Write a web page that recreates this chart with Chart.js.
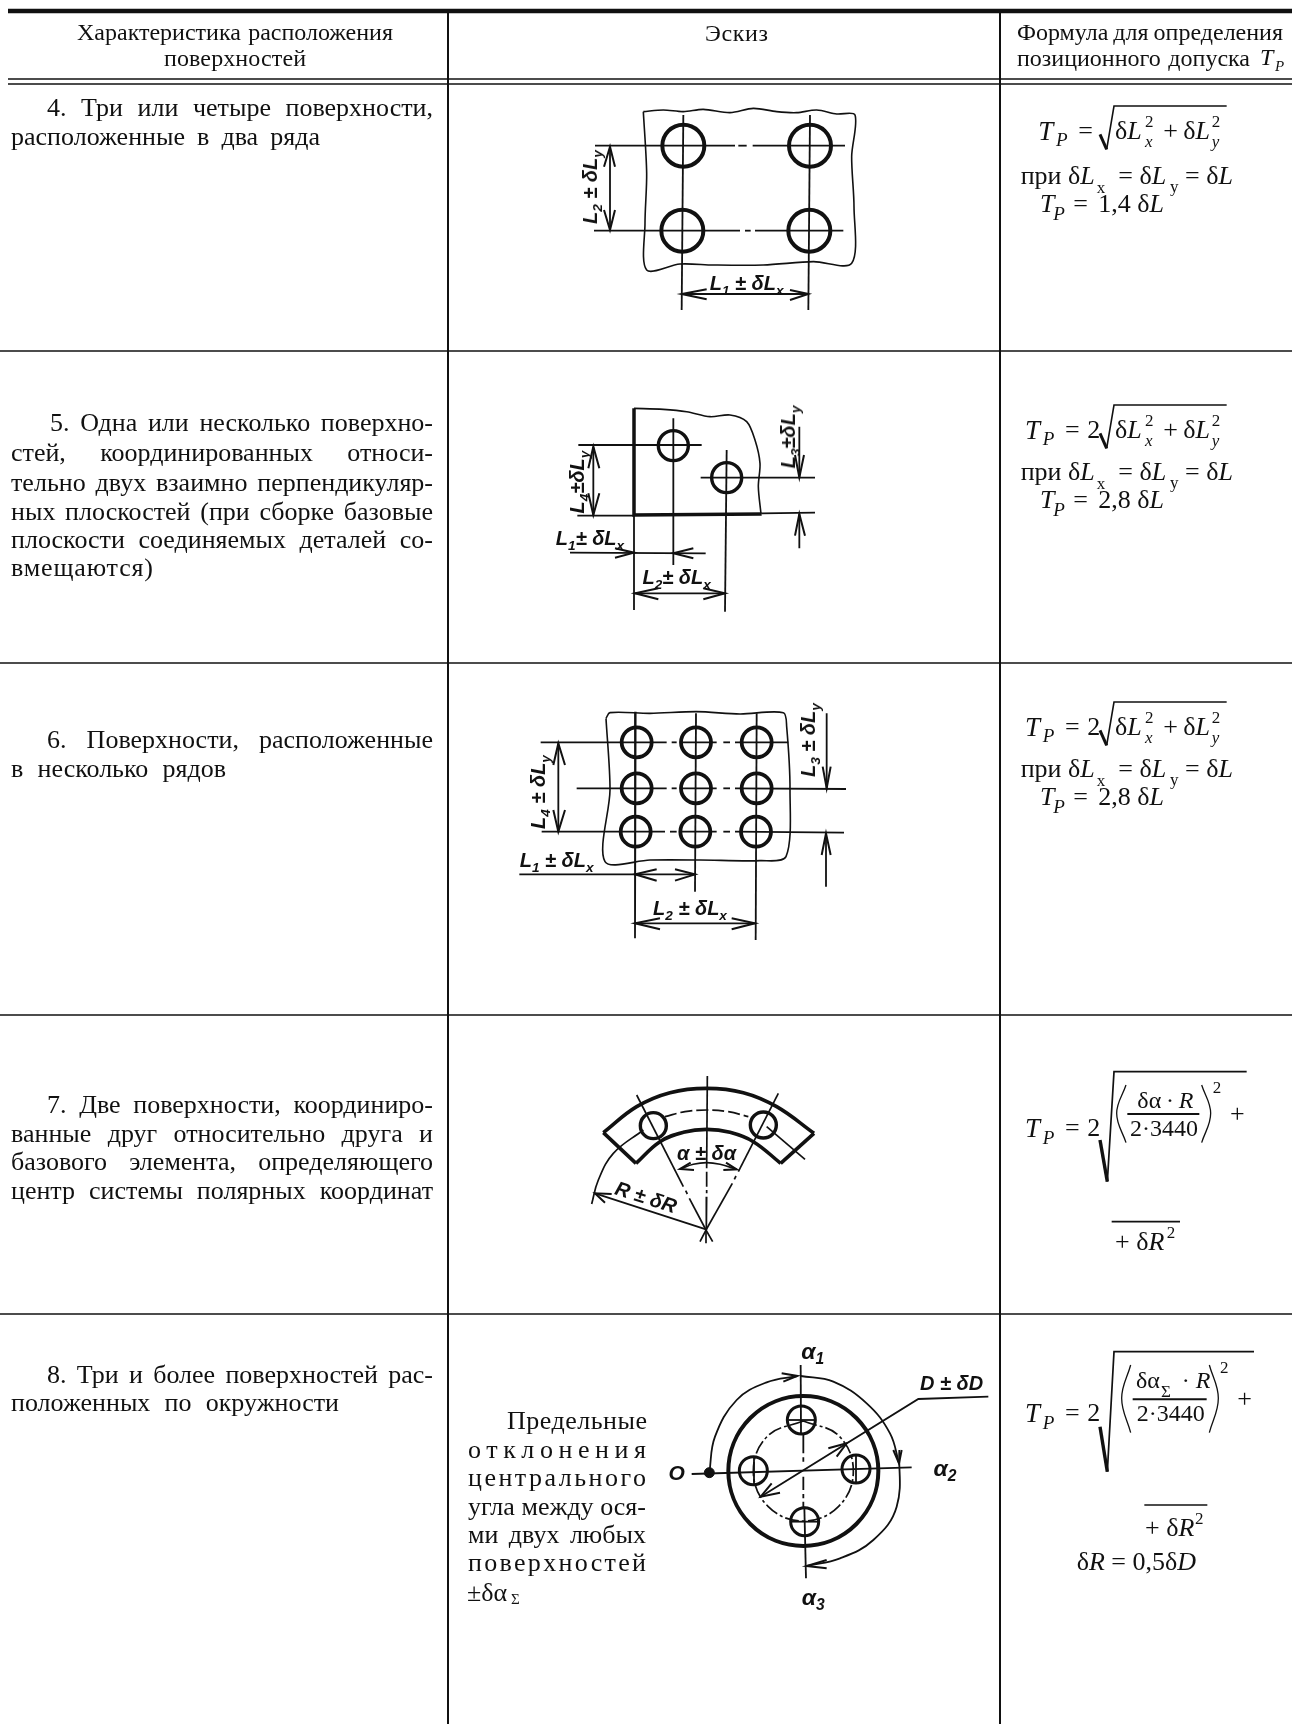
<!DOCTYPE html>
<html>
<head>
<meta charset="utf-8">
<style>
  html, body { margin: 0; background: #fff; }
  #page { position: relative; width: 1292px; height: 1724px; overflow: hidden; }
  #page span.t { position: absolute; white-space: nowrap; color: #111; font-family: "Liberation Serif", serif; line-height: 1; }
  #page span.h { font-family: "Liberation Sans", sans-serif; font-style: italic; font-weight: bold; font-size: 20px; }
  sub, sup { font-size: 68%; line-height: 0; }
</style>
<script src="https://cdn.jsdelivr.net/npm/chart.js@4"></script>
</head>
<body>
<div id="page"><canvas id="sheet" width="1292" height="1724"></canvas></div>
<script>
// all points are [x, y] in reference pixels; sketch points are in crop pixels (3x) from their origin
const pageOrigin = [0, 0, 1];
const origin1 = [530, 90, 3];
const origin2 = [530, 390, 3];
const origin3 = [500, 690, 3];
const origin4 = [570, 1040, 3];
const origin5 = [640, 1320, 3];
const formula7 = [1000, 1040, 3];
const formula8 = [1000, 1330, 3];
const formula5 = [1000, 390, 3];
const formula4 = [1000, 91, 3];
const formula4b = [1000, 94, 3];
const formula6 = [1000, 687, 3];

// table rules
const ruleTop = [[[8, 11], [1292, 11]]];
const ruleHeader = [[[8, 79], [1292, 79]], [[8, 84], [1292, 84]]];
const ruleRows = [[[0, 351], [1292, 351]], [[0, 663], [1292, 663]], [[0, 1015], [1292, 1015]], [[0, 1314], [1292, 1314]]];
const ruleCols = [[[448, 11], [448, 1724]], [[1000, 11], [1000, 1724]]];

// sketch 4
const holes1 = [[460, 167], [840, 167], [457, 422], [838, 422]];
const edge1 = [[[340, 65], [400, 60], [460, 65], [520, 58], [600, 68], [670, 55], [740, 65], [800, 68], [860, 60], [920, 72], [975, 75], [965, 200], [972, 350], [965, 520], [850, 515], [700, 525], [550, 525], [450, 522], [350, 540], [345, 400], [350, 250], [340, 65]]];
const axes1 = [
  [[195, 167], [615, 167]], [[625, 167], [650, 167]], [[668, 167], [945, 167]],
  [[192, 422], [630, 422]], [[645, 422], [662, 422]], [[675, 422], [940, 422]],
  [[460, 75], [455, 660]], [[840, 75], [835, 660]],
  [[240, 170], [240, 420]], [[455, 612], [835, 612]]
];
const arrows1 = [
  [[222, 230], [240, 170], [255, 230]], [[222, 360], [240, 420], [255, 360]],
  [[530, 598], [455, 612], [530, 628]], [[780, 600], [835, 612], [780, 630]]
];

// sketch 5
const holes2 = [[430, 167], [590, 263]];
const edge2 = [[[312, 55], [400, 58], [470, 65], [540, 80], [600, 75], [650, 95], [675, 150], [690, 220], [685, 290], [693, 372]]];
const body2 = [[[312, 55], [312, 375], [695, 372]]];
const axes2 = [
  [[145, 165], [515, 165]], [[430, 85], [430, 525]], [[590, 180], [585, 665]], [[512, 263], [855, 263]],
  [[142, 377], [312, 377]], [[695, 370], [855, 368]], [[312, 375], [312, 660]],
  [[190, 170], [190, 375]], [[808, 110], [808, 262]], [[808, 372], [808, 475]],
  [[120, 488], [527, 490]], [[315, 610], [585, 610]]
];
const arrows2 = [
  [[175, 235], [190, 170], [208, 235]], [[175, 310], [190, 375], [208, 310]],
  [[795, 195], [808, 262], [822, 195]], [[795, 437], [808, 372], [825, 437]],
  [[255, 475], [312, 488], [255, 503]], [[490, 475], [430, 490], [490, 505]],
  [[385, 595], [315, 610], [385, 628]], [[520, 595], [585, 610], [520, 628]]
];

// sketch 6
const holes3 = [[410, 157], [588, 157], [770, 157], [410, 295], [588, 295], [770, 295], [407, 425], [586, 425], [768, 425]];
const edge3 = [[[318, 85], [330, 68], [450, 70], [590, 65], [720, 72], [850, 68], [860, 110], [870, 300], [858, 500], [780, 512], [600, 510], [450, 510], [315, 515], [330, 300], [318, 85]]];
const axes3 = [
  [[122, 157], [500, 157]], [[515, 157], [530, 157]], [[540, 157], [650, 157]], [[670, 157], [690, 157]], [[705, 157], [865, 157]],
  [[230, 295], [500, 295]], [[515, 295], [530, 295]], [[545, 295], [650, 295]], [[670, 295], [690, 295]], [[705, 295], [1038, 297]],
  [[125, 425], [495, 425]], [[510, 425], [530, 425]], [[540, 425], [650, 425]], [[670, 425], [690, 425]], [[705, 425], [1032, 428]],
  [[407, 65], [405, 745]], [[588, 70], [585, 605]], [[770, 70], [767, 750]],
  [[175, 160], [175, 425]], [[980, 70], [980, 295]], [[978, 430], [978, 590]],
  [[58, 553], [585, 553]], [[405, 700], [765, 700]]
];
const arrows3 = [
  [[160, 225], [175, 160], [195, 225]], [[160, 360], [175, 425], [195, 360]],
  [[968, 230], [980, 295], [992, 230]], [[965, 495], [978, 430], [992, 495]],
  [[470, 538], [405, 553], [470, 572]], [[525, 538], [585, 553], [525, 572]],
  [[480, 685], [405, 700], [480, 718]], [[695, 685], [765, 700], [695, 718]]
];

// sketch 7
const holes4 = [[250, 257], [580, 255]];
const ringArcs4 = [
  [[100, 278], [200, 200], [300, 158], [410, 145], [520, 158], [620, 200], [732, 280]],
  [[198, 370], [270, 305], [340, 277], [410, 268], [480, 277], [550, 305], [632, 370]]
];
const ringEnds4 = [[[100, 278], [198, 370]], [[732, 280], [632, 370]]];
const midArc4 = [[[285, 230], [345, 215], [410, 210], [475, 215], [535, 230]]];
const radiusArc4 = [[[65, 492], [85, 420], [130, 340], [220, 270]]];
const angleArc4 = [[[330, 387], [370, 373], [410, 368], [450, 373], [500, 388]]];
const axes4 = [
  [[412, 108], [410, 385]], [[410, 395], [410, 440]], [[410, 450], [410, 460]], [[410, 470], [409, 570]],
  [[200, 165], [340, 440]], [[347, 452], [352, 462]], [[358, 475], [408, 570]],
  [[625, 160], [505, 395]], [[498, 408], [493, 418]], [[487, 430], [408, 570]],
  [[590, 260], [705, 358]],
  [[408, 568], [75, 460]], [[390, 605], [408, 570], [428, 605]], [[408, 570], [408, 610]]
];
const arrows4 = [
  [[125, 462], [75, 460], [105, 488]],
  [[372, 390], [330, 387], [362, 368]], [[460, 390], [500, 388], [468, 368]]
];

// sketch 8
const outerRing5 = [[490, 453]];
const pitchCircle5 = [[[490, 303], [596, 347], [640, 453], [596, 559], [490, 603], [384, 559], [340, 453], [384, 347], [490, 303]]];
const holes5 = [[484, 300], [648, 447], [340, 452], [494, 605]];
const dot5 = [[208, 458]];
const angleArcs5 = [
  [[208, 458], [225, 350], [290, 240], [380, 187], [472, 168]],
  [[482, 168], [580, 185], [680, 250], [750, 340], [777, 430]],
  [[778, 390], [770, 560], [700, 660], [600, 715], [500, 738]]
];
const axes5 = [
  [[482, 135], [483, 345]], [[490, 345], [490, 400]], [[490, 412], [490, 425]], [[490, 470], [490, 510]], [[490, 522], [490, 535]], [[490, 545], [490, 562]],
  [[493, 560], [498, 775]], [[155, 462], [815, 442]],
  [[445, 300], [525, 300]], [[452, 605], [535, 605]], [[342, 410], [342, 495]], [[648, 405], [648, 490]],
  [[362, 530], [835, 237], [1045, 230]]
];
const arrows5 = [
  [[420, 518], [362, 530], [395, 490]], [[565, 385], [620, 370], [590, 410]],
  [[425, 160], [472, 168], [430, 185]], [[760, 390], [777, 430], [785, 390]],
  [[560, 720], [500, 738], [560, 745]]
];

// formula strokes
const radical = [[300, 130], [320, 175], [342, 45], [680, 45]];
const radical7 = [[300, 300], [322, 425], [342, 95], [740, 95]];
const radical8 = [[300, 290], [322, 425], [342, 65], [762, 65]];
const parens7 = [[[378, 135], [350, 220], [378, 308]], [[605, 135], [632, 220], [605, 308]]];
const parens8 = [[[392, 105], [365, 205], [392, 308]], [[628, 105], [655, 205], [628, 308]]];
const bars7 = [[[382, 222], [598, 222]]];
const bars8 = [[[398, 208], [620, 208]]];
const lowRoot7 = [[[335, 545], [540, 545]]];
const lowRoot8 = [[[433, 525], [622, 525]]];

// text lines: text, left, right, centre y
const bodyLines = [
  ['4. Три или четыре поверхности,', 47, 433, 108],
  ['расположенные в два ряда', 11, 320, 137],
  ['5. Одна или несколько поверхно-', 50, 433, 423],
  ['стей, координированных относи-', 11, 433, 453],
  ['тельно двух взаимно перпендикуляр-', 11, 433, 483],
  ['ных плоскостей (при сборке базовые', 11, 433, 512],
  ['плоскости соединяемых деталей со-', 11, 433, 540],
  ['вмещаются)', 11, 153, 568],
  ['6. Поверхности, расположенные', 47, 433, 740],
  ['в несколько рядов', 11, 226, 769],
  ['7. Две поверхности, координиро-', 47, 433, 1105],
  ['ванные друг относительно друга и', 11, 433, 1134],
  ['базового элемента, определяющего', 11, 433, 1162],
  ['центр системы полярных координат', 11, 433, 1191],
  ['8. Три и более поверхностей рас-', 47, 433, 1375],
  ['положенных по окружности', 11, 339, 1403],
  ['Предельные', 507, 647, 1421],
  ['отклонения', 468, 646, 1450],
  ['центрального', 468, 646, 1478],
  ['угла между ося-', 468, 646, 1507],
  ['ми двух любых', 468, 646, 1535],
  ['поверхностей', 468, 646, 1563]
];
const headerLines = [
  ['Характеристика расположения', 77, 393, 32],
  ['поверхностей', 164, 306, 58],
  ['Эскиз', 705, 768, 33],
  ['Формула для определения', 1017, 1283, 32],
  ['позиционного допуска', 1017, 1250, 58]
];

// sketch lettering: html, origin, centre x, centre y, rotation, size
const handLabels = [
  ['L<sub>2</sub> ± δL<sub>y</sub>', origin1, 180, 290, -90, 20],
  ['L<sub>1</sub> ± δL<sub>x</sub>', origin1, 650, 580, 0, 20],
  ['L<sub>4</sub>±δL<sub>y</sub>', origin2, 140, 275, -90, 20],
  ['L<sub>3</sub>±δL<sub>y</sub>', origin2, 775, 140, -90, 20],
  ['L<sub>1</sub>± δL<sub>x</sub>', origin2, 180, 445, 0, 20],
  ['L<sub>2</sub>± δL<sub>x</sub>', origin2, 440, 560, 0, 20],
  ['L<sub>4</sub> ± δL<sub>y</sub>', origin3, 115, 305, -90, 20],
  ['L<sub>3</sub> ± δL<sub>y</sub>', origin3, 925, 150, -90, 20],
  ['L<sub>1</sub> ± δL<sub>x</sub>', origin3, 170, 510, 0, 20],
  ['L<sub>2</sub> ± δL<sub>x</sub>', origin3, 570, 655, 0, 20],
  ['α ± δα', origin4, 410, 338, 0, 20],
  ['R ± δR', origin4, 228, 472, 18, 20],
  ['α<sub>1</sub>', origin5, 518, 92, 0, 23],
  ['D ± δD', origin5, 935, 188, 0, 20],
  ['O', origin5, 110, 455, 0, 21],
  ['α<sub>2</sub>', origin5, 915, 445, 0, 23],
  ['α<sub>3</sub>', origin5, 520, 830, 0, 23]
];

// formula pieces: html, origin, left x, centre y, size
const sqrtXY = (o, a) => [
  ['δ<i>L</i>', o, 345, 120, 26], ['2', o, 435, 90, 17], ['<i>x</i>', o, 435, 150, 17],
  ['+', o, 490, 120, 26], ['δ<i>L</i>', o, 550, 120, 26], ['2', o, 635, 90, 17], ['<i>y</i>', o, 635, 150, 17],
  ['<i>T</i>', o, a ? 75 : 115, 120, 27], ['<i>P</i>', o, a ? 128 : 168, 145, 19], ['=', o, a ? 195 : 235, 120, 26]
];
const condition = (o, value) => [
  ['при δ<i>L</i>', o, 62, 245, 26], ['x', o, 290, 278, 17], ['= δ<i>L</i>', o, 355, 245, 26], ['y', o, 510, 275, 17], ['= δ<i>L</i>', o, 555, 245, 26],
  ['<i>T</i>', o, 120, 330, 26], ['<i>P</i>', o, 160, 358, 19], ['=', o, 220, 330, 26], [value, o, 295, 330, 26]
];
const fractionParts = (o, y1) => [
  ['<i>T</i>', o, 75, y1, 27], ['<i>P</i>', o, 128, y1 + 26, 19], ['=', o, 195, y1, 26], ['2', o, 262, y1, 26]
];
const formulaPieces = [
  ...sqrtXY(formula4, false), ...condition(formula4b, '1,4 δ<i>L</i>'),
  ...sqrtXY(formula5, true), ['2', formula5, 262, 120, 26], ...condition(formula5, '2,8 δ<i>L</i>'),
  ...sqrtXY(formula6, true), ['2', formula6, 262, 120, 26], ...condition(formula6, '2,8 δ<i>L</i>'),
  ...fractionParts(formula7, 265),
  ['δα&thinsp;·&thinsp;<i>R</i>', formula7, 412, 180, 24], ['2·3440', formula7, 390, 265, 24], ['2', formula7, 638, 140, 17], ['+', formula7, 690, 222, 26],
  ['+ δ<i>R</i>', formula7, 345, 605, 26], ['2', formula7, 500, 575, 17],
  ...fractionParts(formula8, 250),
  ['δα', formula8, 408, 150, 24], ['Σ', formula8, 483, 182, 17], ['· <i>R</i>', formula8, 545, 150, 24], ['2·3440', formula8, 410, 250, 24],
  ['2', formula8, 660, 110, 17], ['+', formula8, 712, 208, 26],
  ['+ δ<i>R</i>', formula8, 435, 595, 26], ['2', formula8, 585, 565, 17], ['δ<i>R</i> = 0,5δ<i>D</i>', formula8, 230, 695, 26],
  ['<i>T</i>', pageOrigin, 1260, 57, 24], ['<i>P</i>', pageOrigin, 1275, 66, 15],
  ['±δα', pageOrigin, 467, 1593, 26], ['Σ', pageOrigin, 511, 1599, 15]
];

const INK = '#111';
const toPage = (o, p) => ({ x: o[0] + p[0] / o[2], y: o[1] + p[1] / o[2] });
const datasets = [];

function addLines(o, lines, width, extra) {
  lines.forEach(line => {
    datasets.push(Object.assign({
      data: line.map(p => toPage(o, p)),
      showLine: true,
      borderColor: INK,
      borderWidth: width,
      pointRadius: 0,
      clip: false
    }, extra || {}));
  });
}
function addCircles(o, points, radius, width, fill) {
  datasets.push({
    data: points.map(p => toPage(o, p)),
    showLine: false,
    pointRadius: radius,
    pointBorderWidth: width,
    pointBorderColor: INK,
    pointBackgroundColor: fill || 'rgba(0,0,0,0)',
    clip: false
  });
}
const smooth = { tension: 0.4 };

addLines(pageOrigin, ruleTop, 4.5);
addLines(pageOrigin, ruleHeader, 1.7);
addLines(pageOrigin, ruleRows, 1.7);
addLines(pageOrigin, ruleCols, 2);

addLines(origin1, edge1, 1.6, { tension: 0.3 });
addLines(origin1, axes1, 1.8);
addLines(origin1, arrows1, 2);
addCircles(origin1, holes1, 21, 4);

addLines(origin2, edge2, 1.6, { tension: 0.3 });
addLines(origin2, body2, 3.5);
addLines(origin2, axes2, 1.8);
addLines(origin2, arrows2, 2);
addCircles(origin2, holes2, 15, 3.4);

addLines(origin3, edge3, 1.6, { tension: 0.3 });
addLines(origin3, axes3, 1.8);
addLines(origin3, arrows3, 2);
addCircles(origin3, holes3, 15, 3.8);

addLines(origin4, ringArcs4, 3.6, smooth);
addLines(origin4, ringEnds4, 3.6);
addLines(origin4, midArc4, 1.7, Object.assign({ borderDash: [12, 4] }, smooth));
addLines(origin4, radiusArc4, 1.7, smooth);
addLines(origin4, angleArc4, 1.6, smooth);
addLines(origin4, axes4, 1.7);
addLines(origin4, arrows4, 2);
addCircles(origin4, holes4, 13, 3.4);

addCircles(origin5, outerRing5, 75, 4);
addLines(origin5, pitchCircle5, 1.7, { tension: 0.4, borderDash: [14, 3, 3, 3] });
addCircles(origin5, holes5, 14, 3);
addLines(origin5, angleArcs5, 1.8, smooth);
addLines(origin5, axes5, 1.8);
addLines(origin5, arrows5, 2);
addCircles(origin5, dot5, 5, 1, INK);

[formula4, formula5, formula6].forEach(o => {
  addLines(o, [radical.slice(0, 2)], 3);
  addLines(o, [radical.slice(1)], 1.6);
});
addLines(formula7, [radical7.slice(0, 2)], 3.4);
addLines(formula7, [radical7.slice(1)], 1.7);
addLines(formula8, [radical8.slice(0, 2)], 3.4);
addLines(formula8, [radical8.slice(1)], 1.7);
addLines(formula7, parens7, 1.3, smooth);
addLines(formula8, parens8, 1.3, smooth);
addLines(formula7, bars7, 2);
addLines(formula8, bars8, 2);
addLines(formula7, lowRoot7, 1.6);
addLines(formula8, lowRoot8, 1.6);

new Chart(document.getElementById('sheet').getContext('2d'), {
  type: 'scatter',
  data: { datasets: datasets },
  options: {
    responsive: false,
    animation: false,
    events: [],
    layout: { padding: 0, autoPadding: false },
    plugins: { legend: { display: false }, tooltip: { enabled: false }, title: { display: false } },
    scales: {
      x: { type: 'linear', min: 0, max: 1292, display: false },
      y: { type: 'linear', min: 0, max: 1724, reverse: true, display: false }
    }
  }
});

const page = document.getElementById('page');
function put(html, left, y, size, cls) {
  const s = document.createElement('span');
  s.className = 't' + (cls ? ' ' + cls : '');
  s.innerHTML = html;
  s.style.left = left + 'px';
  s.style.top = y + 'px';
  if (size) s.style.fontSize = size + 'px';
  s.style.transform = 'translateY(-50%)';
  page.appendChild(s);
  return s;
}
function fitted(lines, size) {
  lines.forEach(([text, left, right, y]) => {
    const s = put(text, left, y, size);
    const gaps = (text.match(/ /g) || []).length;
    const spare = (right - left) - s.getBoundingClientRect().width;
    if (gaps) s.style.wordSpacing = (spare / gaps) + 'px';
    else s.style.letterSpacing = (spare / (text.length - 1)) + 'px';
  });
}
fitted(bodyLines, 26);
fitted(headerLines, 24);
handLabels.forEach(([html, o, x, y, angle, size]) => {
  const p = toPage(o, [x, y]);
  const s = put(html, p.x, p.y, size, 'h');
  s.style.transform = 'translate(-50%,-50%) rotate(' + angle + 'deg)';
});
formulaPieces.forEach(([html, o, x, y, size]) => {
  const p = toPage(o, [x, y]);
  put(html, p.x, p.y, size);
});
</script>
</body>
</html>
